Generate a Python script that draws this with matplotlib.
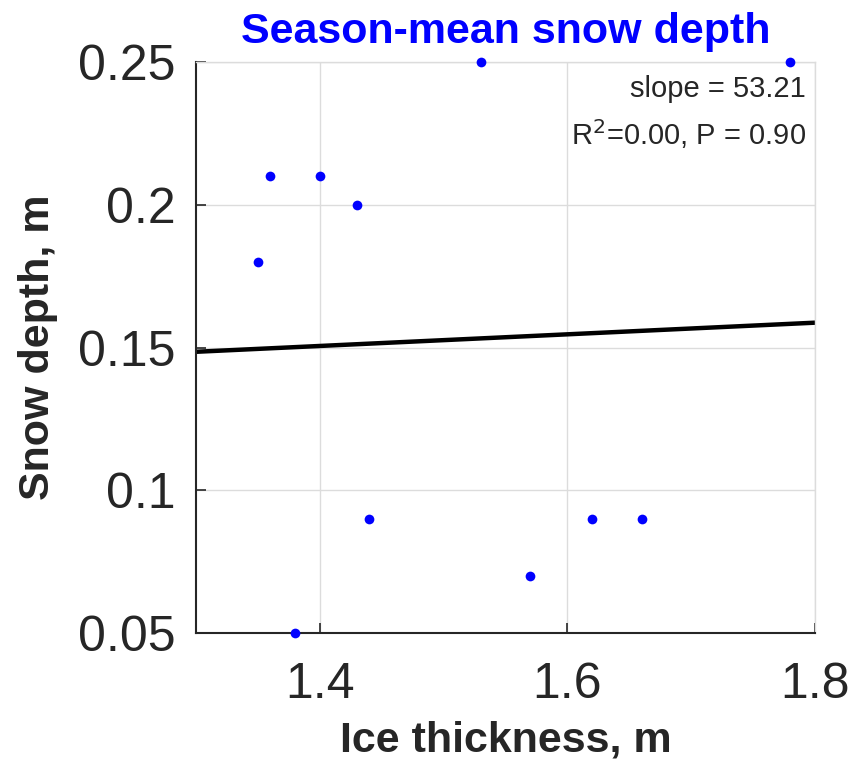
import matplotlib
matplotlib.use("Agg")
import matplotlib.pyplot as plt

# Season-mean ice thickness (m) and snow depth (m)
ice_thickness = [1.35, 1.36, 1.38, 1.40, 1.43, 1.44, 1.53, 1.57, 1.62, 1.66, 1.78]
snow_depth = [0.18, 0.21, 0.05, 0.21, 0.20, 0.09, 0.25, 0.07, 0.09, 0.09, 0.25]

# Linear fit line endpoints
fit_x = [1.3, 1.8]
fit_y = [0.1485, 0.1587]

x_ticks = [1.4, 1.6, 1.8]
x_tick_labels = ["1.4", "1.6", "1.8"]
y_ticks = [0.05, 0.1, 0.15, 0.2, 0.25]
y_tick_labels = ["0.05", "0.1", "0.15", "0.2", "0.25"]

plt.rcParams["font.family"] = ["Liberation Sans", "DejaVu Sans"]

fig = plt.figure(figsize=(8.63, 7.62), dpi=100)
ax = fig.add_axes([0.2271, 0.1693, 0.7173, 0.7493])

ax.grid(True, color="#dcdcdc", linewidth=1.0)
ax.set_axisbelow(True)

ax.plot(fit_x, fit_y, color="black", linewidth=3.2, solid_capstyle="butt", zorder=2)
ax.plot(ice_thickness, snow_depth, linestyle="none", marker="o", markersize=7,
        color="blue", markeredgewidth=0, clip_on=False, zorder=3)

ax.set_xlim(1.3, 1.8)
ax.set_ylim(0.05, 0.25)
ax.set_xticks(x_ticks)
ax.set_xticklabels(x_tick_labels)
ax.set_yticks(y_ticks)
ax.set_yticklabels(y_tick_labels)

ax.tick_params(axis="both", direction="in", length=7, width=1.2, color="#262626",
               labelsize=36, labelcolor="#262626")
ax.tick_params(axis="y", pad=15)
ax.tick_params(axis="x", pad=21)
ax.tick_params(top=False, right=False)

for side in ("left", "bottom"):
    ax.spines[side].set_color("#262626")
    ax.spines[side].set_linewidth(1.5)
for side in ("top", "right"):
    ax.spines[side].set_color("#dcdcdc")
    ax.spines[side].set_linewidth(1.0)

ax.set_xlabel("Ice thickness, m", fontsize=31, fontweight="bold", color="#262626", labelpad=9)
ax.set_ylabel("Snow depth, m", fontsize=31, fontweight="bold", color="#262626", labelpad=14)
ax.set_title("Season-mean snow depth", fontsize=31, fontweight="bold", color="blue", pad=14)

ax.text(0.985, 0.953, "slope = 53.21", transform=ax.transAxes, ha="right", va="center",
        fontsize=21, color="#262626")
ax.text(0.985, 0.874, r"R$^2$=0.00, P = 0.90", transform=ax.transAxes, ha="right", va="center",
        fontsize=21, color="#262626")

fig.savefig("out.png", dpi=100)
